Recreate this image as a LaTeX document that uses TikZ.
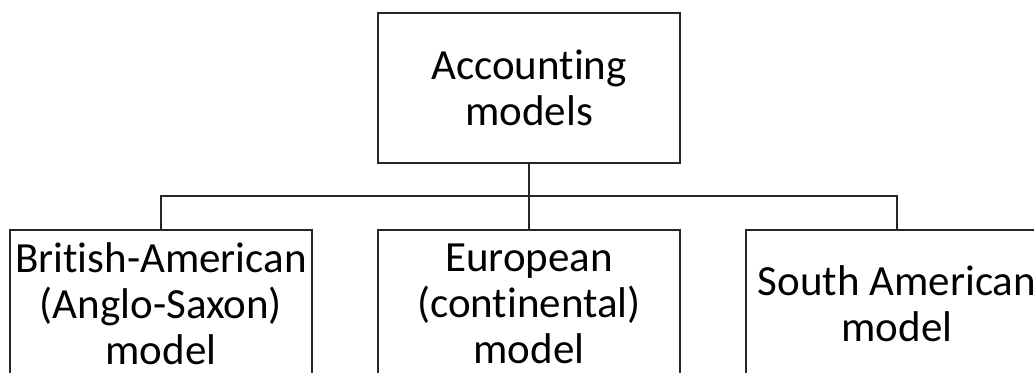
\documentclass[tikz,border=0pt]{standalone}
\usepackage{fontspec}
\setmainfont{Carlito}[Ligatures=NoCommon]
\usetikzlibrary{positioning}

\begin{document}
\begin{tikzpicture}[
      model/.style={rectangle, draw=black!85, line width=1pt,
                    minimum width=151pt, align=center, inner sep=0.5pt,
                    font=\fontsize{21.5}{23}\selectfont},
      link/.style={draw=black!85, line width=1pt},
    ]

    % ---- frame (the page is cut like the reference) ----------------
    \useasboundingbox (-264.5pt,44pt) rectangle (252.5pt,-142.5pt);
    \clip (-264.5pt,44pt) rectangle (252.5pt,-142.5pt);

    % ---- root ------------------------------------------------------
    \node[model, minimum height=75pt] (root) {Accounting\\models};

    % ---- three models ----------------------------------------------
    \node[model, minimum height=74pt, below=32.5pt of root] (euro)
      {European\\(continental)\\model};
    \node[model, minimum height=74pt, left=32pt of euro] (brit)
      {British-American\\(Anglo-Saxon)\\model};
    \node[model, minimum height=74pt, right=32pt of euro] (south)
      {South American\\model};

    % ---- tree lines ------------------------------------------------
    \draw[link] (root.south) -- (euro.north);
    \draw[link] (brit.north) -- ++(0,16.5pt) -| (south.north);

  \end{tikzpicture}
\end{document}
